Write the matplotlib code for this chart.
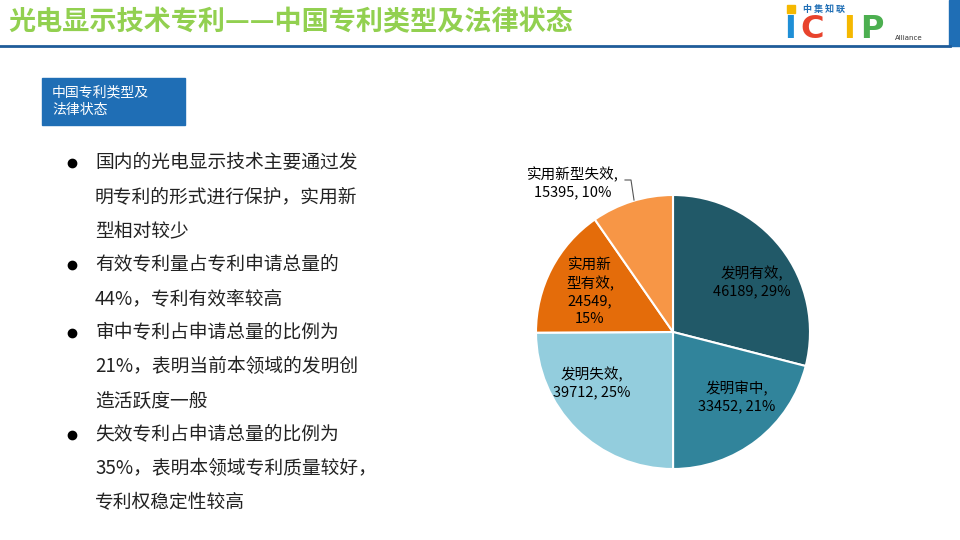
import matplotlib
matplotlib.use("Agg")
import matplotlib.pyplot as plt
from matplotlib.patches import Rectangle

plt.rcParams["font.family"] = ["Noto Sans CJK SC", "DejaVu Sans"]

categories = ["发明有效", "发明审中", "发明失效", "实用新型有效", "实用新型失效"]
values = [46189, 33452, 39712, 24549, 15395]
percents = [29, 21, 25, 15, 10]
colors = ["#215968", "#31849B", "#93CDDD", "#E46C0A", "#F79646"]
label_texts = ["发明有效,\n46189, 29%", "发明审中,\n33452, 21%", "发明失效,\n39712, 25%",
               "实用新\n型有效,\n24549,\n15%", "实用新型失效,\n15395, 10%"]

title = "光电显示技术专利——中国专利类型及法律状态"
box_text = "中国专利类型及\n法律状态"
bullets = [
    ["国内的光电显示技术主要通过发", "明专利的形式进行保护，实用新", "型相对较少"],
    ["有效专利量占专利申请总量的", "44%，专利有效率较高"],
    ["审中专利占申请总量的比例为", "21%，表明当前本领域的发明创", "造活跃度一般"],
    ["失效专利占申请总量的比例为", "35%，表明本领域专利质量较好，", "专利权稳定性较高"],
]

W, H = 960, 540
fig = plt.figure(figsize=(9.6, 5.4), dpi=100)
bg = fig.add_axes([0, 0, 1, 1])
bg.set_xlim(0, W); bg.set_ylim(H, 0); bg.axis("off")

# header
bg.text(8, 22, title, color="#92D050", fontsize=19.5, fontweight="bold", va="center", ha="left")
bg.plot([0, 950], [46, 46], color="#1F5C99", lw=2)
bg.add_patch(Rectangle((949, 0), 11, 46, color="#1F6EB5"))
# logo
bg.add_patch(Rectangle((787, 5), 8, 8, color="#F5B800"))
bg.text(803, 9, "中 集 知 联", color="#1F6EB5", fontsize=6.5, fontweight="bold", va="center")
for x, ch, c in [(784, "I", "#1F8FD6"), (800, "C", "#E8432D"), (843, "I", "#F5B800"), (860, "P", "#4CAF50")]:
    bg.text(x, 29, ch, color=c, fontsize=23, fontweight="bold", va="center", ha="left", family="DejaVu Sans")
bg.text(895, 38, "Alliance", color="#333333", fontsize=5, va="center", family="DejaVu Sans")

# label box
bg.add_patch(Rectangle((42, 78), 143, 47, color="#1F6EB5"))
bg.text(52, 101, box_text, color="white", fontsize=10, va="center", ha="left", linespacing=1.3)

# bullets
y = 163
for b in bullets:
    bg.plot(72, y, "o", color="black", ms=6)
    for line in b:
        bg.text(95, y, line, fontsize=13.5, va="center", ha="left", color="#222222")
        y += 34

# pie
cx, cy, r = 673, 332, 137
ax = fig.add_axes([(cx - r) / W, (H - cy - r) / H, 2 * r / W, 2 * r / H])
wedges, _ = ax.pie(values, colors=colors, startangle=90, counterclock=False,
                   wedgeprops=dict(edgecolor="white", linewidth=1.5))
ax.set_xlim(-1, 1); ax.set_ylim(-1, 1); ax.set_aspect("equal")

def px(x, y):
    return ((x - cx) / r, (cy - y) / r)

pos = [(752, 282, "black"), (737, 397, "black"), (592, 383, "black"), (590, 292, "black")]
for (x, yy, c), t in zip(pos, label_texts[:4]):
    ax.text(*px(x, yy), t, ha="center", va="center", fontsize=10.5, color=c, linespacing=1.3, clip_on=False)
ax.text(*px(573, 183), label_texts[4], ha="center", va="center", fontsize=10.5, color="black",
        linespacing=1.3, clip_on=False)
ax.plot([px(625, 180)[0], px(631, 180)[0], px(634, 200)[0]],
        [px(625, 180)[1], px(631, 180)[1], px(634, 200)[1]], color="#555555", lw=0.8, clip_on=False)

fig.savefig("out.png", dpi=100)
